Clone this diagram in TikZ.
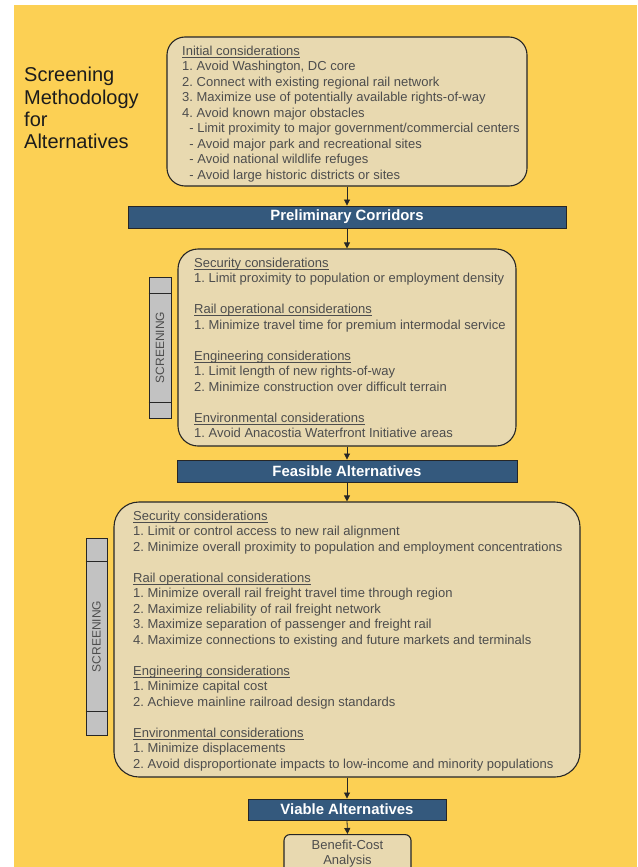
\documentclass[tikz,border=0pt]{standalone}
\usepackage{fontspec}
\setmainfont{Liberation Sans}
\usetikzlibrary{arrows.meta}
\frenchspacing
\definecolor{bgyellow}{HTML}{FCD054}
\definecolor{boxfill}{HTML}{E8D9B0}
\definecolor{barblue}{HTML}{34597D}
\definecolor{txtgray}{HTML}{4D4D4D}
\definecolor{scrfill}{HTML}{C2C2C2}
\definecolor{lineclr}{HTML}{262626}
\definecolor{titleclr}{HTML}{1C1C1C}
\newcommand\ulx[1]{\setbox0\hbox{#1}\rlap{\rule[-2.2pt]{\wd0}{0.7pt}}\box0}
\tikzset{
  cbox/.style={draw=lineclr, fill=boxfill, line width=1.1pt, rounded corners=#1, inner sep=0pt},
  bluebar/.style={draw=lineclr, fill=barblue, line width=0.9pt, inner sep=0pt,
    text=white, font=\fontsize{14.9}{17}\selectfont\bfseries},
  bodytext/.style={inner sep=0pt, align=left, anchor=base west, text=txtgray,
    font=\fontsize{13}{15.5}\selectfont},
  titletext/.style={inner sep=0pt, align=left, anchor=base west, text=titleclr,
    font=\fontsize{20}{22.4}\selectfont},
  scrbar/.style={draw=lineclr, fill=scrfill, line width=0.9pt, inner sep=0pt},
  scrtext/.style={inner sep=0pt, rotate=90, text=txtgray, font=\fontsize{12}{14}\selectfont},
  flow/.style={draw=lineclr, line width=0.8pt, -{Triangle[length=6pt,width=6pt]}}
}
\begin{document}
\begin{tikzpicture}[x=1pt,y=-1pt]
\useasboundingbox (0,0) rectangle (637,867);
\clip (0,0) rectangle (637,867);
\fill[bgyellow] (14,5) rectangle (637,867);

% multi-line nodes: base anchor = baseline of last line
\node[titletext] (title) at (24,148.9) {Screening\\Methodology\\for\\Alternatives};

% box 1
\node[cbox=18, minimum width=360pt, minimum height=149pt] (init) at (347,111.5) {};
\node[bodytext] (inittxt) at (182,179) {\ulx{Initial considerations}\\
1. Avoid Washington, DC core\\
2. Connect with existing regional rail network\\
3. Maximize use of potentially available rights-of-way\\
4. Avoid known major obstacles\\
\ \ - Limit proximity to major government/commercial centers\\
\ \ - Avoid major park and recreational sites\\
\ \ - Avoid national wildlife refuges\\
\ \ - Avoid large historic districts or sites};

% bar 1
\node[bluebar, minimum width=438pt, minimum height=22pt] (pc) at (347,217) {Preliminary Corridors};

% box 2
\node[cbox=20, minimum width=338pt, minimum height=197pt] (scr1box) at (347,347.5) {};
\node[bodytext] (scr1txt) at (194,437.5) {\ulx{Security considerations}\\
1. Limit proximity to population or employment density\\[15.5pt]
\ulx{Rail operational considerations}\\
1. Minimize travel time for premium intermodal service\\[15.5pt]
\ulx{Engineering considerations}\\
1. Limit length of new rights-of-way\\
2. Minimize construction over difficult terrain\\[15.5pt]
\ulx{Environmental considerations}\\
1. Avoid Anacostia Waterfront Initiative areas};

\node[scrbar, minimum width=22pt, minimum height=141pt] (scr1) at (160,347.5) {};
\draw[lineclr, line width=0.9pt] (scr1.west |- 0,293) -- (scr1.east |- 0,293);
\draw[lineclr, line width=0.9pt] (scr1.west |- 0,402) -- (scr1.east |- 0,402);
\node[scrtext] (scr1lbl) at (scr1.center) {SCREENING};

% bar 2
\node[bluebar, minimum width=340pt, minimum height=22pt] (fa) at (347,471) {Feasible Alternatives};

% box 3
\node[cbox=25, minimum width=466pt, minimum height=275pt] (scr2box) at (347,639.5) {};
\node[bodytext] (scr2txt) at (133,768) {\ulx{Security considerations}\\
1. Limit or control access to new rail alignment\\
2. Minimize overall proximity to population and employment concentrations\\[15.5pt]
\ulx{Rail operational considerations}\\
1. Minimize overall rail freight travel time through region\\
2. Maximize reliability of rail freight network\\
3. Maximize separation of passenger and freight rail\\
4. Maximize connections to existing and future markets and terminals\\[15.5pt]
\ulx{Engineering considerations}\\
1. Minimize capital cost\\
2. Achieve mainline railroad design standards\\[15.5pt]
\ulx{Environmental considerations}\\
1. Minimize displacements\\
2. Avoid disproportionate impacts to low-income and minority populations};

\node[scrbar, minimum width=21pt, minimum height=197pt] (scr2) at (96.5,636.5) {};
\draw[lineclr, line width=0.9pt] (scr2.west |- 0,561) -- (scr2.east |- 0,561);
\draw[lineclr, line width=0.9pt] (scr2.west |- 0,711) -- (scr2.east |- 0,711);
\node[scrtext] (scr2lbl) at (scr2.center) {SCREENING};

% bar 3
\node[bluebar, minimum width=198pt, minimum height=21pt] (va) at (347,809.5) {Viable Alternatives};

% benefit-cost
\node[cbox=6, minimum width=127pt, minimum height=50pt, anchor=north] (bca) at (347.5,834) {};
\node[bodytext, align=center, anchor=base] (bcatxt) at (347.5,864.5) {Benefit-Cost\\Analysis};

% connectors
\draw[flow] (init.south) -- (pc.north);
\draw[flow] (pc.south) -- (scr1box.north);
\draw[flow] (scr1box.south) -- (fa.north);
\draw[flow] (fa.south) -- (scr2box.north);
\draw[flow] (scr2box.south) -- (va.north);
\draw[flow] (va.south) -- (bca.north);
\end{tikzpicture}
\end{document}
